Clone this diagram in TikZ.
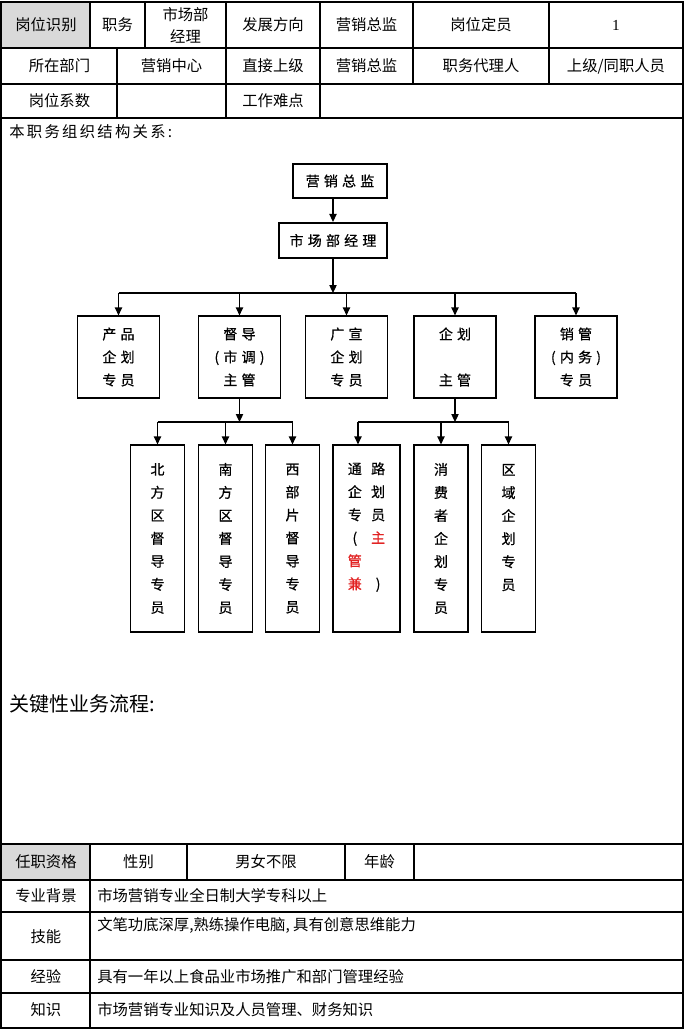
\documentclass[tikz,border=0pt]{standalone}
\usepackage{fontspec}
\setmainfont{Liberation Serif}
\newfontfamily\cjk{Noto Sans CJK SC}
\newfontfamily\cjkchart[FakeBold=0.6]{Noto Sans CJK SC}
\newfontfamily\cjkwide[LetterSpace=30,FakeBold=0.6]{Noto Sans CJK SC}
\newfontfamily\cjkspaced[LetterSpace=15]{Noto Sans CJK SC}
\usetikzlibrary{arrows.meta,calc,positioning}
\definecolor{hired}{RGB}{225,35,35}
\tikzset{
  tblline/.style={line width=0.8pt},
  cell/.style={inner sep=0pt, font=\cjk\fontsize{11.5}{15}\selectfont},
  box/.style={draw, line width=0.9pt, inner sep=0pt, align=center,
    minimum width=61.5pt, minimum height=61.5pt,
    font=\cjkwide\fontsize{10.5}{17.25}\selectfont},
  tallbox/.style={draw, line width=0.9pt, inner sep=0pt, align=center,
    minimum width=40.5pt, minimum height=140.25pt,
    font=\cjkchart\fontsize{10.5}{17.25}\selectfont},
  wire/.style={line width=0.9pt}
}
\begin{document}
\begin{tikzpicture}[x=0.75pt,y=-0.75pt,>={Triangle[length=6pt,width=5.5pt]}]
\useasboundingbox (0,0) rectangle (686,1029);
% table
\fill[gray!30] (1,2) rectangle (90,48);
\fill[gray!30] (1,844) rectangle (90,880);
\draw[tblline] (1,2) rectangle (683,1028);
\draw[tblline] (1,48) -- (683,48) (1,84) -- (683,84) (1,118) -- (683,118)
  (1,844) -- (683,844) (1,880) -- (683,880) (1,912) -- (683,912)
  (1,960) -- (683,960) (1,993) -- (683,993);
\draw[tblline] (90,2) -- (90,48) (145,2) -- (145,48) (226,2) -- (226,118)
  (320,2) -- (320,118) (413,2) -- (413,84) (549,2) -- (549,84)
  (117,48) -- (117,118);
\draw[tblline] (90,844) -- (90,1028) (187,844) -- (187,880)
  (345,844) -- (345,880) (414,844) -- (414,880);

\node[cell] (idlab) at (46,25) {岗位识别};
\node[cell] (pos) at (117.5,25) {职务};
\node[cell, align=center, font=\cjk\fontsize{11.5}{16.5}\selectfont] (posv) at (185.5,25) {市场部\\经理};
\node[cell] (dir) at (273,25) {发展方向};
\node[cell] (dirv) at (366.5,25) {营销总监};
\node[cell] (quota) at (481,25) {岗位定员};
\node[cell, font=\fontsize{11.5}{15}\selectfont] (quotav) at (616,25) {1};
\node[cell] (dept) at (59.5,66) {所在部门};
\node[cell] (deptv) at (171.5,66) {营销中心};
\node[cell] (boss) at (273,66) {直接上级};
\node[cell] (bossv) at (366.5,66) {营销总监};
\node[cell] (agent) at (481,66) {职务代理人};
\node[cell] (agentv) at (616,66) {上级/同职人员};
\node[cell] (coef) at (59.5,101) {岗位系数};
\node[cell] (hard) at (273,101) {工作难点};

\node[cell, anchor=west, font=\cjkspaced\fontsize{11.5}{15}\selectfont] (orgttl) at (9,132) {本职务组织结构关系:};
\node[cell, anchor=west, font=\cjk\fontsize{15}{18}\selectfont] (flowttl) at (9,704) {关键性业务流程:};

\node[cell] (qual) at (46,862) {任职资格};
\node[cell] (sex) at (138.5,862) {性别};
\node[cell] (sexv) at (266,862) {男女不限};
\node[cell] (age) at (379.5,862) {年龄};
\node[cell] (major) at (46,896) {专业背景};
\node[cell, anchor=west] (majorv) at (97,896) {市场营销专业全日制大学专科以上};
\node[cell] (skill) at (46,937) {技能};
\node[cell, anchor=west] (skillv) at (97,925) {文笔功底深厚,熟练操作电脑, 具有创意思维能力};
\node[cell] (exper) at (46,977) {经验};
\node[cell, anchor=west] (experv) at (97,977) {具有一年以上食品业市场推广和部门管理经验};
\node[cell] (know) at (46,1010) {知识};
\node[cell, anchor=west] (knowv) at (97,1010) {市场营销专业知识及人员管理、财务知识};

% org chart
\node[box, minimum width=70.5pt, minimum height=25.5pt] (chief) at (340,181) {营销总监};
\node[box, line width=1.6pt, minimum width=81pt, minimum height=26.25pt] (mgr) at (333,240.5) {市场部经理};
\draw[wire, ->] (mgr.north |- chief.south) -- (mgr.north);
\coordinate (busa) at (333,293);
\draw[wire, ->] (mgr) -- (busa);

\node[box] (prod) at (118.5,357) {产品\\企划\\专员};
\node[box] (sup) at (239.5,357) {督导\\(市调)\\主管};
\node[box] (adv) at (346.5,357) {广宣\\企划\\专员};
\node[box] (plan) at (455,357) {企划\\\mbox{}\\主管};
\node[box] (sales) at (576,357) {销管\\(内务)\\专员};
\draw[wire] (prod.north |- busa) -- (sales.north |- busa);
\draw[wire, ->] (prod.north |- busa) -- (prod);
\draw[wire, ->] (sup.north |- busa) -- (sup);
\draw[wire, ->] (adv.north |- busa) -- (adv);
\draw[wire, ->] (plan.north |- busa) -- (plan);
\draw[wire, ->] (sales.north |- busa) -- (sales);

\node[tallbox] (north) at (157.5,538.5) {北\\方\\区\\督\\导\\专\\员};
\node[tallbox] (south) at (225.5,538.5) {南\\方\\区\\督\\导\\专\\员};
\node[tallbox] (west) at (292.5,538.5) {西\\部\\片\\督\\导\\专\\员};
\node[tallbox, minimum width=50.25pt] (chan) at (366.5,538.5) {\begin{tabular}{@{}c@{\hspace{7pt}}c@{}}
  通 & 路\\ 企 & 划\\ 专 & 员\\ ( & \textcolor{hired}{主}\\
  \textcolor{hired}{管} & \\ \textcolor{hired}{兼} & )\\ & \end{tabular}};
\node[tallbox] (cons) at (441,538.5) {消\\费\\者\\企\\划\\专\\员};
\node[tallbox] (area) at (508.5,538.5) {区\\域\\企\\划\\专\\员\\\mbox{}};

\coordinate (busb) at (239.5,422);
\draw[wire, ->] (sup) -- (busb);
\draw[wire] (north.north |- busb) -- (west.north |- busb);
\draw[wire, ->] (north.north |- busb) -- (north);
\draw[wire, ->] (south.north |- busb) -- (south);
\draw[wire, ->] (west.north |- busb) -- (west);

\coordinate (busc) at (455,422);
\coordinate (chin) at ($(chan.north)+(-8.5,0)$);
\draw[wire, ->] (plan) -- (busc);
\draw[wire] (chin |- busc) -- (area.north |- busc);
\draw[wire, ->] (chin |- busc) -- (chin);
\draw[wire, ->] (cons.north |- busc) -- (cons);
\draw[wire, ->] (area.north |- busc) -- (area);
\end{tikzpicture}
\end{document}
